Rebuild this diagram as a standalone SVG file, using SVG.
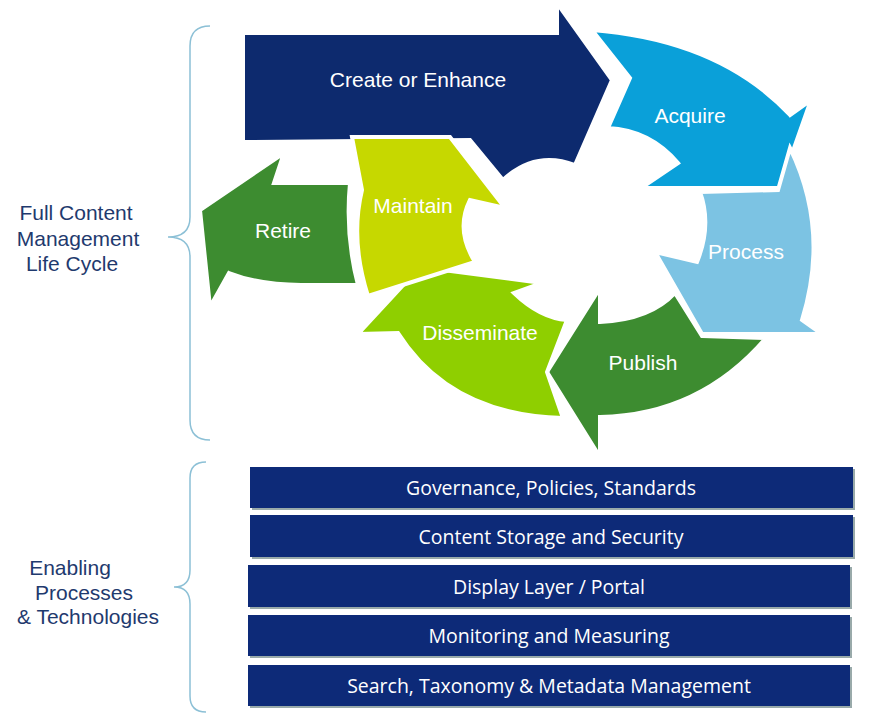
<svg xmlns="http://www.w3.org/2000/svg" width="872" height="722" viewBox="0 0 872 722">
<style>
.a{stroke:#fff;stroke-width:4;stroke-linejoin:miter}
.t{font-family:"Liberation Sans",Arial,sans-serif;font-size:21px;fill:#fff;text-anchor:middle}
.l{font-family:"Liberation Sans",Arial,sans-serif;font-size:21px;fill:#1f3a6e;text-anchor:middle}
.b{fill:#0d2a78}
.bt{font-family:"Open Sans",sans-serif;font-size:19.5px;fill:#fff;text-anchor:middle}
.br{fill:none;stroke:#8cc0d6;stroke-width:1.5}
</style>
<rect width="872" height="722" fill="#fff"/>
<g id="braces">
<path class="br" d="M210,26 Q190,26 190,46 L190,217 Q190,237 168,237 Q190,237 190,257 L190,420 Q190,440 210,440"/>
<path class="br" d="M206,462 Q190,462 190,478 L190,570 Q190,587 174,587 Q190,587 190,604 L190,696 Q190,712 206,712"/>
</g>
<g id="labels">
<text class="l" x="76" y="220">Full Content</text>
<text class="l" x="78" y="246">Management</text>
<text class="l" x="72" y="271">Life Cycle</text>
<text class="l" x="70" y="575">Enabling</text>
<text class="l" x="84" y="600">Processes</text>
<text class="l" x="88" y="624">&amp; Technologies</text>
</g>
<g id="cycle">
<g id="create"><path class="a" fill="#0d2a6e" d="M243,33 L557,33 L557,3 L612,80 L575,165 Q535,150 503,180 L470,140 L243,142 Z"/><text class="t" x="418" y="87">Create or Enhance</text></g>
<g id="acquire"><path class="a" fill="#0aa0d9" d="M592,30 Q720,40 790,115 L811,100 L780,188 L641,188 L678,163 Q650,130 608,128 L630,78 Z"/><text class="t" x="690" y="123">Acquire</text></g>
<g id="process"><path class="a" fill="#7cc3e3" d="M700,192 L778,190 L790,148 Q830,230 802,320 L822,334 L702,334 L655,252 L697,262 Q712,225 700,192 Z"/><text class="t" x="746" y="259">Process</text></g>
<g id="publish"><path class="a" fill="#3d8c30" d="M702,336 L766,338 Q700,415 600,417 L600,457 L547,372 L600,288 L600,322 Q650,320 675,293 Z"/><text class="t" x="643" y="370">Publish</text></g>
<g id="disseminate"><path class="a" fill="#8fcf00" d="M563,418 Q450,415 398,333 L358,334 L420,267 L542,283 L514,293 Q540,318 567,320 L547,372 Z"/><text class="t" x="480" y="340">Disseminate</text></g>
<g id="maintain"><path class="a" fill="#c6d800" d="M368,296 Q350,240 362,190 L352,137 L450,137 L505,208 L470,200 Q455,230 475,262 Z"/><text class="t" x="413" y="213">Maintain</text></g>
<g id="retire"><path class="a" fill="#3d8c30" d="M284,153 L274,183 L350,183 Q345,235 358,285 L301,285 Q260,285 229,273 L210,307 L200,210 Z"/><text class="t" x="283" y="238">Retire</text></g>
</g>
<g id="bars">
<g id="bar1"><rect x="252" y="469" width="603" height="41" fill="#9aa"/><rect class="b" x="250" y="467" width="603" height="41"/><text class="bt" x="551" y="495">Governance, Policies, Standards</text></g>
<g id="bar2"><rect x="252" y="517" width="603" height="42" fill="#9aa"/><rect class="b" x="250" y="515" width="603" height="42"/><text class="bt" x="551" y="544">Content Storage and Security</text></g>
<g id="bar3"><rect x="250" y="567" width="602" height="42" fill="#9aa"/><rect class="b" x="248" y="565" width="602" height="42"/><text class="bt" x="549" y="594">Display Layer / Portal</text></g>
<g id="bar4"><rect x="250" y="617" width="602" height="41" fill="#9aa"/><rect class="b" x="248" y="615" width="602" height="41"/><text class="bt" x="549" y="643">Monitoring and Measuring</text></g>
<g id="bar5"><rect x="250" y="667" width="602" height="41" fill="#9aa"/><rect class="b" x="248" y="665" width="602" height="41"/><text class="bt" x="549" y="693">Search, Taxonomy &amp; Metadata Management</text></g>
</g>
</svg>
